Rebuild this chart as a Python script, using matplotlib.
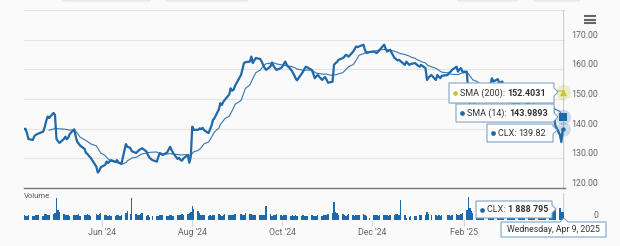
import numpy as np
import pandas as pd
import matplotlib
matplotlib.use('Agg')
import matplotlib.pyplot as plt
import matplotlib.dates as mdates
from matplotlib.patches import Polygon, FancyBboxPatch

plt.rcParams['font.family'] = ['Roboto', 'DejaVu Sans']

# ---- data (CLX daily close, volume in millions) ----
holidays = ['2024-05-27', '2024-06-19', '2024-07-04', '2024-09-02', '2024-11-28',
            '2024-12-25', '2025-01-01', '2025-01-09', '2025-01-20', '2025-02-17']

close = [
    139.8, 140.0, 138.5, 136.5,
    136.2, 137.5, 137.9, 138.2, 138.4,
    139.0, 140.5, 142.5, 144.1, 143.6,
    145.3, 144.6, 136.5, 135.8, 135.2,
    136.5, 137.3, 136.4, 137.0, 138.2,
    139.8, 137.5, 135.6, 135.0, 134.3,
    133.2, 131.8, 131.5, 130.8, 130.3,
    127.2, 125.2, 125.8, 127.0,
    127.8, 128.9, 128.4, 129.0, 129.4,
    128.8, 129.4, 128.6, 128.4, 128.1,
    134.8, 133.9, 133.5, 132.4,
    131.8, 132.3, 132.8, 133.1, 133.4,
    132.3, 131.1, 130.2, 129.4,
    128.9, 130.5, 131.8, 131.5, 131.1,
    132.0, 133.0, 133.9, 132.8, 131.8,
    129.8, 130.2, 129.5, 129.2, 130.0,
    131.1, 128.5, 130.6, 140.7, 139.6,
    139.6, 140.1, 139.8, 140.3, 139.5,
    138.5, 139.8, 141.0, 142.9, 143.5,
    146.5, 148.6, 148.0, 149.0, 149.7,
    151.5, 153.6, 152.8, 153.1, 154.5,
    158.1, 160.0, 162.1, 162.4,
    162.6, 164.3, 162.1, 163.0, 163.8,
    163.5, 162.6, 161.5, 160.5, 159.8,
    161.0, 162.3, 161.2, 160.5, 159.8,
    160.4, 160.9, 161.8, 162.6, 161.5,
    159.8, 159.0, 158.1, 157.0, 156.3,
    158.5, 159.2, 160.2, 160.9, 160.6,
    159.8, 158.5, 157.0, 157.6, 158.1,
    156.4, 157.0, 157.4, 156.5, 155.5,
    155.8, 161.5, 162.1, 162.4, 163.2,
    163.8, 164.2, 164.9, 164.6, 164.3,
    166.0, 166.8, 167.7, 167.5, 167.7,
    168.3, 166.5, 165.5, 165.8,
    166.0, 165.7, 165.5, 166.0, 166.6,
    168.3, 167.0, 166.0, 166.3, 166.6,
    163.8, 163.5, 163.0, 163.2, 162.8,
    161.5, 162.6, 161.5, 161.8,
    162.1, 161.6, 160.9, 161.5,
    160.4, 156.4, 157.2, 158.1,
    156.4, 158.1, 157.5, 157.0, 157.8,
    158.1, 158.8, 159.2, 159.8,
    160.9, 159.2, 160.0, 160.4, 159.2,
    159.2, 152.0, 148.5, 147.4, 148.0,
    149.7, 150.5, 151.5, 152.5, 153.5,
    154.0, 154.8, 157.0, 155.9,
    156.7, 155.3, 155.6, 155.9, 154.2,
    154.2, 152.0, 150.0, 148.5, 148.0,
    148.8, 147.5, 146.5, 147.0, 148.0,
    148.8, 148.0, 147.5, 148.2, 146.5,
    146.0, 145.5, 146.5, 147.0, 147.5,
    148.0, 147.0, 147.5, 145.0, 141.0,
    138.0, 135.5, 139.82,
]

volume_m = [
    1.1, 0.9, 1.0, 1.2,
    1.0, 0.9, 1.1, 1.3, 1.2,
    1.0, 1.4, 1.5, 1.3, 1.2,
    1.4, 1.8, 5.3, 2.4, 1.9,
    1.5, 1.3, 1.2, 1.1, 1.0,
    1.2, 1.3, 1.1, 1.4, 1.0,
    1.3, 1.2, 1.4, 1.3, 1.0,
    1.4, 1.2, 1.5, 1.6,
    1.1, 1.2, 1.0, 1.3, 1.0,
    0.9, 1.1, 1.2, 1.0, 1.1,
    1.6, 2.2, 1.4, 5.3,
    1.5, 1.2, 1.1, 1.4, 1.6,
    1.0, 1.1, 0.8, 0.9,
    1.0, 1.0, 1.1, 1.2, 1.1,
    1.0, 0.9, 1.1, 1.2, 1.0,
    1.3, 1.1, 1.2, 1.4, 1.3,
    1.5, 1.7, 2.0, 3.4, 2.6,
    2.2, 1.6, 1.3, 1.2, 1.1,
    1.0, 1.1, 1.0, 1.3, 1.2,
    1.4, 1.1, 1.0, 1.2, 1.4,
    1.3, 1.1, 1.2, 1.3, 1.5,
    1.4, 1.3, 1.2, 1.6,
    1.5, 1.4, 1.2, 1.3, 1.1,
    1.2, 1.1, 1.3, 1.2, 3.3,
    1.4, 1.0, 1.1, 1.2, 1.5,
    1.3, 1.0, 1.1, 1.2, 1.1,
    1.0, 1.2, 1.0, 1.1, 1.0,
    1.0, 1.1, 1.0, 0.9, 1.0,
    1.1, 1.0, 1.0, 0.9, 1.1,
    1.0, 1.2, 1.1, 1.3, 1.4,
    1.8, 4.3, 2.0, 1.6, 1.3,
    1.4, 1.2, 1.0, 1.3, 1.5,
    1.1, 1.0, 1.2, 1.1, 1.3,
    1.4, 1.2, 1.0, 0.6,
    1.2, 1.1, 1.3, 1.0, 1.1,
    1.2, 1.3, 1.1, 1.0, 1.2,
    1.3, 1.4, 1.5, 1.2, 4.7,
    1.2, 0.6, 0.8, 0.9,
    1.0, 1.0, 1.2, 1.1,
    1.3, 2.0, 1.4, 1.2,
    1.1, 1.0, 1.2, 1.0, 1.3,
    1.1, 1.2, 1.0, 1.1,
    1.4, 1.2, 1.3, 1.4, 1.6,
    2.5, 5.5, 3.0, 2.2, 1.7,
    1.5, 1.4, 1.6, 1.3, 1.4,
    1.5, 1.6, 1.8, 2.0,
    1.7, 1.6, 1.5, 1.8, 2.2,
    1.6, 1.8, 1.7, 1.5, 1.4,
    1.6, 1.5, 1.4, 1.3, 1.5,
    1.4, 1.3, 1.2, 1.4, 2.5,
    1.3, 1.2, 1.4, 1.3, 1.5,
    1.7, 1.5, 1.6, 2.2, 3.0,
    2.8, 2.0, 1.888795,
]

price_ticks = [120, 130, 140, 150, 160, 170, 180]
price_labels = ['120.00', '130.00', '140.00', '150.00', '160.00', '170.00', '']
month_ticks = ['2024-06-01', '2024-08-01', '2024-10-01', '2024-12-01', '2025-02-01']

sma200_last = 152.4031
sma14_last = 143.9893
last_close = 139.82
last_volume = '1 888 795'
hover_date = 'Wednesday, Apr 9, 2025'

dates = pd.bdate_range('2024-04-09', '2025-04-09')
dates = dates[~dates.isin(pd.to_datetime(holidays))]
assert len(dates) == len(close) == len(volume_m)

sma14 = pd.Series(close).rolling(14).mean()
sma200 = pd.Series(close).rolling(200).mean()

# ---- figure ----
W, H = 620, 246
BG = '#fafafa'
BLUE = '#1f68aa'
YG = '#c3c935'
GRAY_TXT = '#666666'

fig = plt.figure(figsize=(W / 100, H / 100), dpi=100, facecolor=BG)
ax = fig.add_axes([24 / W, 1 - 188 / H, 541 / W, 178 / H])
vol = fig.add_axes([24 / W, 1 - 220 / H, 541 / W, 27 / H], sharex=ax)
for a in (ax, vol):
    a.set_facecolor('none')

# price panel
ax.plot(dates, close, color=BLUE, lw=1.6, solid_joinstyle='round', zorder=3)
ax.plot(dates, sma14, color=BLUE, lw=0.8, alpha=0.9, zorder=2)
ax.plot(dates, sma200, color=YG, lw=0.8, zorder=2)

ax.set_xlim(pd.Timestamp('2024-04-09'), pd.Timestamp('2025-04-10 12:00'))
ax.set_ylim(120, 180)
ax.set_yticks(price_ticks, labels=price_labels)
ax.yaxis.tick_right()
ax.tick_params(axis='y', length=0, pad=23.8, labelsize=6.3, labelcolor=GRAY_TXT)
plt.setp(ax.get_yticklabels(), ha='right', va='bottom')
ax.tick_params(axis='x', bottom=False, labelbottom=False)
ax.grid(axis='y', color='#e4e4e4', lw=0.8)
ax.set_axisbelow(True)
for s in ('top', 'left', 'right'):
    ax.spines[s].set_visible(False)
ax.spines['bottom'].set_color('#777777')
ax.spines['bottom'].set_linewidth(1.0)
ax.axvline(dates[-1], color='#cfcfcf', lw=0.8, zorder=1)

# last-point markers with halos
lx = dates[-1]
ax.scatter([lx], [sma200_last], s=120, color=YG, alpha=0.25, lw=0, clip_on=False, zorder=6)
ax.scatter([lx], [sma200_last], s=28, marker='^', color=YG, lw=0, clip_on=False, zorder=7)
ax.scatter([lx], [sma14_last], s=120, color=BLUE, alpha=0.2, lw=0, clip_on=False, zorder=6)
ax.scatter([lx], [sma14_last], s=26, marker='s', color=BLUE, lw=0, clip_on=False, zorder=7)
ax.scatter([lx], [last_close], s=110, color=BLUE, alpha=0.2, lw=0, clip_on=False, zorder=6)
ax.scatter([lx], [last_close], s=10, marker='o', color=BLUE, lw=0, clip_on=False, zorder=7)

# volume panel
vol.bar(dates, volume_m, width=1.0, color=BLUE, lw=0)
vol.set_ylim(0, 6.5)
vol.yaxis.tick_right()
vol.set_yticks([0], labels=['0'])
vol.tick_params(axis='y', length=0, pad=23.8, labelsize=6.3, labelcolor=GRAY_TXT)
plt.setp(vol.get_yticklabels(), ha='right', va='bottom')
vol.set_xticks(pd.to_datetime(month_ticks))
vol.xaxis.set_major_formatter(mdates.DateFormatter("%b '%y"))
vol.tick_params(axis='x', length=4.5, width=0.8, color='#d0d8e6', pad=1,
                labelsize=6.3, labelcolor=GRAY_TXT)
for s in vol.spines.values():
    s.set_visible(False)
vol.axvline(dates[-1], color='#cfcfcf', lw=0.8, zorder=0)

fig.text(24 / W, 1 - 196 / H, 'Volume', fontsize=5.5, color='#555555', va='center')

# ---- overlay in pixel coordinates: tooltips, menu icon ----
ov = fig.add_axes([0, 0, 1, 1], zorder=10)
ov.set_xlim(0, W)
ov.set_ylim(H, 0)
ov.axis('off')
ov.patch.set_alpha(0)
renderer = fig.canvas.get_renderer()

# range selector buttons peeking at the top
for bx, bw in [(63, 88), (166, 82), (457, 61), (533, 47)]:
    ov.add_patch(FancyBboxPatch((bx, -8), bw, 9, boxstyle='round,pad=0,rounding_size=2',
                                fc='#f3f3f3', ec='#e0e0e0', lw=0.6))

# hamburger menu
for yy in (16, 19.5, 23):
    ov.plot([584, 596], [yy, yy], color='#666666', lw=1.5, solid_capstyle='butt')


def tooltip(x0, y0, x1, y1, ym, dot_color, label, value, bold=True, edge='#7fa6c6'):
    poly = [(x0, y0), (x1, y0), (x1, ym - 4), (x1 + 4, ym), (x1, ym + 4), (x1, y1), (x0, y1)]
    ov.add_patch(Polygon(poly, closed=True, fc='white', ec=edge, lw=0.8, zorder=3))
    yc = (y0 + y1) / 2
    ov.plot(x0 + 6, yc, 'o', ms=2.4, color=dot_color, zorder=4)
    t = ov.text(x0 + 11, yc, label, fontsize=6.5, color='#333333', va='center', zorder=4)
    w = t.get_window_extent(renderer).width
    ov.text(x0 + 11 + w, yc, value, fontsize=6.5, color='#333333',
            weight='bold' if bold else 'normal', va='center', zorder=4)


tooltip(449, 83, 554, 103, 92, YG, 'SMA (200): ', f'{sma200_last:.4f}')
tooltip(456, 104, 554, 122, 117, BLUE, 'SMA (14): ', f'{sma14_last:.4f}')
tooltip(487, 124, 553, 142, 130, BLUE, 'CLX: ', f'{last_close:.2f}', bold=False)
tooltip(476, 201, 552, 218, 209, BLUE, 'CLX: ', last_volume)

# date label under the crosshair
dpoly = [(501, 222), (560, 222), (564, 218), (568, 222), (606, 222), (606, 237), (501, 237)]
ov.add_patch(Polygon(dpoly, closed=True, fc='white', ec='#7fa6c6', lw=0.8, zorder=3))
ov.text(553.5, 229.5, hover_date, fontsize=6.3, color='#333333', ha='center', va='center', zorder=4)

fig.savefig('out.png', dpi=100, facecolor=BG)
